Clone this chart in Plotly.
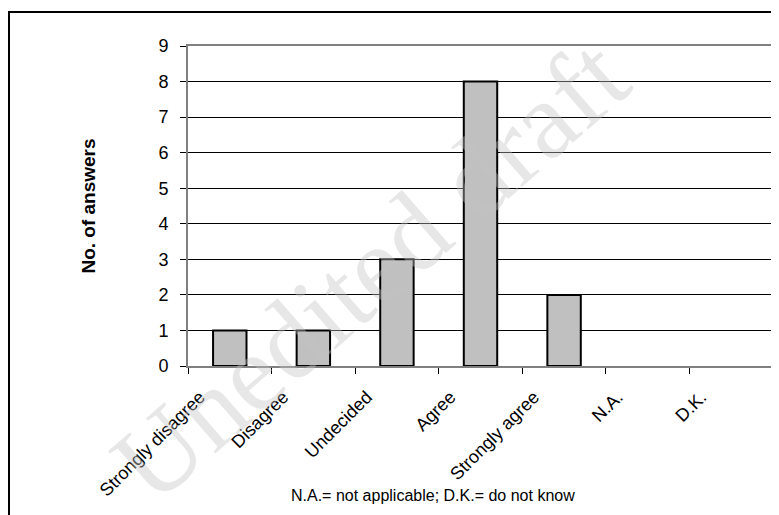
import plotly.graph_objects as go

categories = ["Strongly disagree", "Disagree", "Undecided", "Agree", "Strongly agree", "N.A.", "D.K."]
answers = [1, 1, 3, 8, 2, 0, 0]
y_ticks = [0, 1, 2, 3, 4, 5, 6, 7, 8, 9]

OFF = 8  # default page body margin
W, H = 779 - OFF, 515 - OFF
L, R, T, B = 188 - OFF, 6, 46 - OFF, 149
pw, ph = W - L - R, H - T - B

def px(x):
    return (x - OFF - L) / pw

def py(y):
    return (H - B - (y - OFF)) / ph

idx = list(range(len(categories)))
label_shift = -0.36

fig = go.Figure()
fig.add_trace(go.Bar(
    x=categories, y=answers, width=0.4,
    marker=dict(color="#C0C0C0",
                line=dict(color="black", width=[2 if v > 0 else 0 for v in answers])),
))
# carrier for the shifted category labels (Excel-style label placement)
fig.add_trace(go.Scatter(
    x=idx, y=answers, xaxis="x2", mode="markers",
    marker=dict(opacity=0), hoverinfo="skip",
))

fig.update_layout(
    width=W, height=H,
    margin=dict(l=L, r=R, t=T, b=B, autoexpand=False),
    paper_bgcolor="white", plot_bgcolor="white",
    showlegend=False,
    font=dict(family="Liberation Sans, Arial", color="black"),
    xaxis=dict(
        type="category", tickson="boundaries", ticks="outside", ticklen=6, tickcolor="black",
        showticklabels=False, automargin=False,
        showline=True, linecolor="#808080", linewidth=2, mirror=True, showgrid=False,
    ),
    xaxis2=dict(
        overlaying="x", anchor="y", side="bottom", range=[-0.5, len(categories) - 0.5],
        tickvals=[i + label_shift for i in idx], ticktext=categories,
        tickangle=-45, tickfont=dict(size=18), ticks="", ticklabelstandoff=16,
        showline=False, showgrid=False, zeroline=False, automargin=False,
    ),
    yaxis=dict(
        range=[0, 9], tickvals=y_ticks, ticks="outside", ticklen=6, tickcolor="black",
        tickfont=dict(size=18), showgrid=True, gridcolor="black", gridwidth=1,
        zeroline=False, automargin=False, ticklabelstandoff=8,
        showline=True, linecolor="#808080", linewidth=2, mirror=True,
        title=dict(text="<b>No. of answers</b>", font=dict(size=19), standoff=58),
    ),
)

# watermark
fig.add_annotation(
    x=px(370), y=py(270), xref="paper", yref="paper",
    xanchor="center", yanchor="middle",
    text="Unedited draft", showarrow=False, textangle=-41,
    font=dict(family="Liberation Serif, DejaVu Serif, serif", size=110, color="rgba(195,195,195,0.4)"),
)

# footnote
fig.add_annotation(
    x=px(433), y=py(495), xref="paper", yref="paper",
    text="N.A.= not applicable; D.K.= do not know", showarrow=False,
    font=dict(size=16), xanchor="center", yanchor="middle",
)

# outer chart frame (cropped)
fig.add_shape(type="rect", xref="paper", yref="paper",
              x0=px(9), y0=py(560), x1=px(830), y1=py(12),
              line=dict(color="black", width=2), layer="below")

fig.write_html("out.html")
